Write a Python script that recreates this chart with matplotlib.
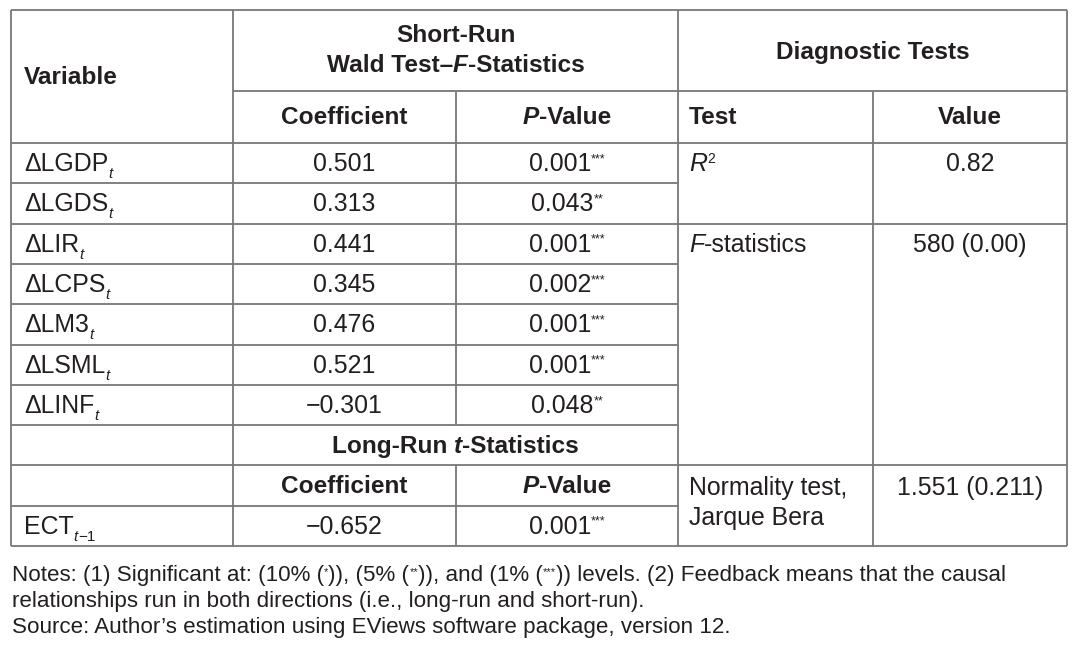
import matplotlib
matplotlib.use('Agg')
import matplotlib.pyplot as plt

plt.rcParams['font.family'] = ['Liberation Sans', 'DejaVu Sans']

variables = ['LGDP', 'LGDS', 'LIR', 'LCPS', 'LM3', 'LSML', 'LINF']
coefs = [0.501, 0.313, 0.441, 0.345, 0.476, 0.521, -0.301]
pvals = [0.001, 0.043, 0.001, 0.002, 0.001, 0.001, 0.048]
stars = ['***', '**', '***', '***', '***', '***', '**']
ect_coef = -0.652
ect_pval = 0.001
ect_stars = '***'
r2_value = '0.82'
f_value = '580 (0.00)'
jb_value = '1.551 (0.211)'

INK = '#231f20'
LINE = '#777777'
BODY = 17.9
BOLD = 17.6
SUB = 11
STAR = 9
NOTE = 16.1

fig = plt.figure(figsize=(10.87, 6.49), dpi=100)
ax = fig.add_axes([0, 0, 1, 1])
ax.set_xlim(0, 1087)
ax.set_ylim(649, 0)
ax.axis('off')
renderer = fig.canvas.get_renderer()


def fmt(v):
    return f'{v:.3f}'.replace('-', '\u2212')


def runs(x, y, parts, ha='left'):
    # parts: (text, size, style, weight, dy)
    objs = []
    for txt, size, style, weight, dy in parts:
        t = ax.text(0, y + dy, txt, fontsize=size, style=style, weight=weight,
                    va='center', ha='left', color=INK)
        objs.append(t)
    widths = [t.get_window_extent(renderer).width for t in objs]
    pos = x - sum(widths) / 2 if ha == 'center' else x
    for t, w in zip(objs, widths):
        t.set_x(pos)
        pos += w


# grid geometry
L, C1, C2, C3, C4, R = 11, 233, 456, 678, 873, 1067
TOP, MID, HEAD = 10, 91, 143
step = 40.3
rows = [HEAD + step * i for i in range(11)]
BOT = rows[-1]

lw = 1.3
ax.hlines([TOP, HEAD, rows[2], rows[8], BOT], L, R, color=LINE, lw=lw)
ax.hlines(MID, C1, R, color=LINE, lw=lw)
ax.hlines([rows[i] for i in (1, 3, 4, 5, 6, 7, 9)], L, C3, color=LINE, lw=lw)
ax.vlines([L, C1, C3, R], TOP, BOT, color=LINE, lw=lw)
ax.vlines(C2, MID, rows[7], color=LINE, lw=lw)
ax.vlines(C2, rows[8], BOT, color=LINE, lw=lw)
ax.vlines(C4, MID, BOT, color=LINE, lw=lw)

cx1 = (C1 + C2) / 2
cx2 = (C2 + C3) / 2
cx4 = (C4 + R) / 2
xl = 24
xt = 689

def mid(i):
    return (rows[i] + rows[i + 1]) / 2 + 1

# header
runs(xl, 77, [('Variable', BOLD, 'normal', 'bold', 0)])
runs((C1 + C3) / 2, 36, [('Short-Run', BOLD, 'normal', 'bold', 0)], 'center')
runs((C1 + C3) / 2, 66, [('Wald Test\u2013', BOLD, 'normal', 'bold', 0),
                         ('F', BOLD, 'italic', 'bold', 0),
                         ('-Statistics', BOLD, 'normal', 'bold', 0)], 'center')
runs((C3 + R) / 2, 52, [('Diagnostic Tests', BOLD, 'normal', 'bold', 0)], 'center')
runs(cx1, 117, [('Coefficient', BOLD, 'normal', 'bold', 0)], 'center')
runs(cx2, 117, [('P', BOLD, 'italic', 'bold', 0),
                ('-Value', BOLD, 'normal', 'bold', 0)], 'center')
runs(xt, 117, [('Test', BOLD, 'normal', 'bold', 0)])
runs(cx4, 117, [('Value', BOLD, 'normal', 'bold', 0)], 'center')

# short-run rows
for i, (v, c, p, s) in enumerate(zip(variables, coefs, pvals, stars)):
    y = mid(i)
    runs(xl, y, [('\u0394' + v, BODY, 'normal', 'normal', 0),
                 ('t', SUB, 'italic', 'normal', 10)])
    runs(cx1, y, [(fmt(c), BODY, 'normal', 'normal', 0)], 'center')
    runs(cx2, y, [(fmt(p), BODY, 'normal', 'normal', 0),
                  (s, STAR, 'normal', 'normal', -5)], 'center')

# long-run block
runs((C1 + C3) / 2, mid(7), [('Long-Run ', BOLD, 'normal', 'bold', 0),
                             ('t', BOLD, 'italic', 'bold', 0),
                             ('-Statistics', BOLD, 'normal', 'bold', 0)], 'center')
runs(cx1, mid(8), [('Coefficient', BOLD, 'normal', 'bold', 0)], 'center')
runs(cx2, mid(8), [('P', BOLD, 'italic', 'bold', 0),
                   ('-Value', BOLD, 'normal', 'bold', 0)], 'center')
runs(xl, mid(9), [('ECT', BODY, 'normal', 'normal', 0),
                  ('t', SUB, 'italic', 'normal', 10),
                  ('\u22121', SUB, 'normal', 'normal', 10)])
runs(cx1, mid(9), [(fmt(ect_coef), BODY, 'normal', 'normal', 0)], 'center')
runs(cx2, mid(9), [(fmt(ect_pval), BODY, 'normal', 'normal', 0),
                   (ect_stars, STAR, 'normal', 'normal', -5)], 'center')

# diagnostic tests
runs(xt, mid(0), [('R', BODY, 'italic', 'normal', 0),
                  ('2', 10, 'normal', 'normal', -5)])
runs(cx4, mid(0), [(r2_value, BODY, 'normal', 'normal', 0)], 'center')
runs(xt, mid(2), [('F', BODY, 'italic', 'normal', 0),
                  ('-statistics', BODY, 'normal', 'normal', 0)])
runs(cx4, mid(2), [(f_value, BODY, 'normal', 'normal', 0)], 'center')
runs(xt, 488, [('Normality test,', BODY, 'normal', 'normal', 0)])
runs(xt, 518, [('Jarque Bera', BODY, 'normal', 'normal', 0)])
runs(cx4, 488, [(jb_value, BODY, 'normal', 'normal', 0)], 'center')

# notes
runs(12, 576, [('Notes: (1) Significant at: (10% (', NOTE, 'normal', 'normal', 0),
               ('*', 8, 'normal', 'normal', -4),
               (')), (5% (', NOTE, 'normal', 'normal', 0),
               ('**', 8, 'normal', 'normal', -4),
               (')), and (1% (', NOTE, 'normal', 'normal', 0),
               ('***', 8, 'normal', 'normal', -4),
               (')) levels. (2) Feedback means that the causal', NOTE, 'normal', 'normal', 0)])
runs(12, 601, [('relationships run in both directions (i.e., long-run and short-run).',
                NOTE, 'normal', 'normal', 0)])
runs(12, 627, [('Source: Author\u2019s estimation using EViews software package, version 12.',
                NOTE, 'normal', 'normal', 0)])

fig.savefig('out.png', dpi=100)
